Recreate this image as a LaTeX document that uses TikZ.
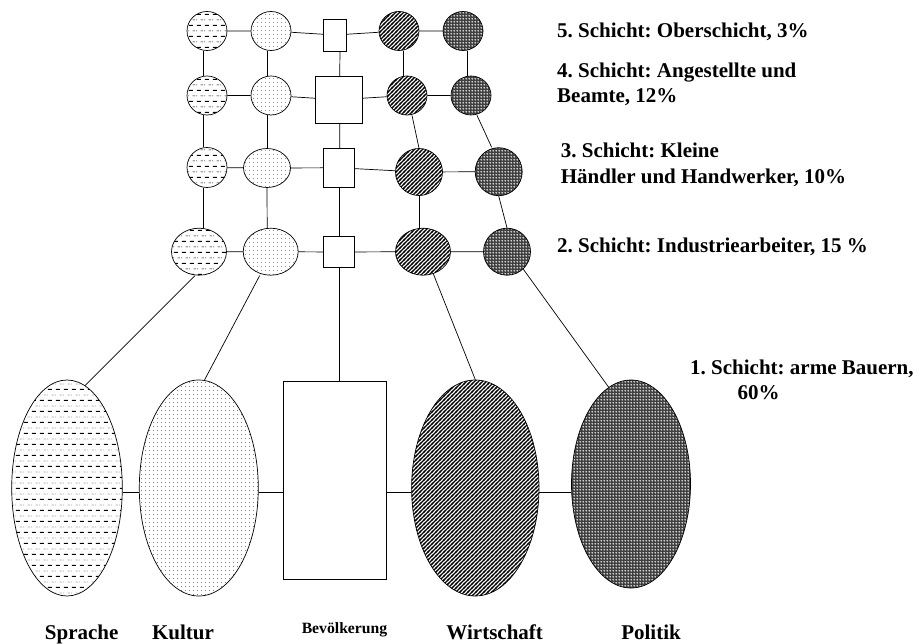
\documentclass[tikz,border=0pt]{standalone}
\usepackage{fontspec}
\setmainfont{Liberation Serif}[BoldFont={Liberation Serif Bold}]
\usetikzlibrary{shapes.geometric,patterns}
\frenchspacing

\pgfdeclarepatternformonly{hdash}{\pgfqpoint{0pt}{0pt}}{\pgfqpoint{7.5pt}{10.8pt}}{\pgfqpoint{7.5pt}{10.8pt}}{%
  \pgfsetlinewidth{1.0pt}%
  \pgfpathmoveto{\pgfqpoint{1pt}{2.7pt}}\pgfpathlineto{\pgfqpoint{5.2pt}{2.7pt}}\pgfusepath{stroke}%
  \pgfsetlinewidth{0.35pt}%
  \pgfpathmoveto{\pgfqpoint{4.8pt}{8.1pt}}\pgfpathlineto{\pgfqpoint{7.5pt}{8.1pt}}%
  \pgfpathmoveto{\pgfqpoint{0pt}{8.1pt}}\pgfpathlineto{\pgfqpoint{1.3pt}{8.1pt}}\pgfusepath{stroke}}

\pgfdeclarepatternformonly{fdots}{\pgfqpoint{0pt}{0pt}}{\pgfqpoint{4pt}{4pt}}{\pgfqpoint{4pt}{4pt}}{%
  \pgfpathcircle{\pgfqpoint{2pt}{2pt}}{0.45pt}\pgfusepath{fill}}

\pgfdeclarepatternformonly{diagstripe}{\pgfqpoint{-1pt}{-1pt}}{\pgfqpoint{5pt}{5pt}}{\pgfqpoint{4pt}{4pt}}{%
  \pgfsetlinewidth{1.4pt}%
  \pgfpathmoveto{\pgfqpoint{-1pt}{-1pt}}\pgfpathlineto{\pgfqpoint{5pt}{5pt}}\pgfusepath{stroke}}

\pgfdeclarepatternformonly{pdots}{\pgfqpoint{0pt}{0pt}}{\pgfqpoint{3pt}{3pt}}{\pgfqpoint{3pt}{3pt}}{%
  \pgfpathcircle{\pgfqpoint{1.5pt}{1.5pt}}{1.0pt}\pgfusepath{fill}}

\tikzset{
  circ/.style={ellipse, draw, line width=0.7pt, inner sep=0pt},
  sq/.style={rectangle, draw, line width=0.7pt, inner sep=0pt, fill=white},
  pS/.style={circ, pattern=hdash},
  pK/.style={circ, pattern=fdots},
  pW/.style={circ, pattern=diagstripe},
  pP/.style={circ, preaction={fill=black!75}, pattern=pdots, pattern color=white},
  sz/.style 2 args={minimum width=#1pt, minimum height=#2pt},
  conn/.style={line width=0.7pt},
  lbl/.style={font=\fontsize{21}{25.5}\selectfont\bfseries, inner sep=0pt},
  slbl/.style={font=\fontsize{15.7}{19}\selectfont\bfseries, inner sep=0pt},
}

\begin{document}
\begin{tikzpicture}[x=1pt,y=-1pt]
\useasboundingbox (0,0) rectangle (918,644);

% row 1
\node[pS, sz={40}{39}] (a1) at (207,31) {};
\node[pK, sz={40}{39}] (b1) at (271,31) {};
\node[sq, sz={23}{32}] (c1) at (335,35) {};
\node[pW, sz={40}{39}] (d1) at (399,31) {};
\node[pP, sz={40}{39}] (e1) at (463,31) {};
% row 2
\node[pS, sz={40}{39}] (a2) at (207,95.5) {};
\node[pK, sz={40}{39}] (b2) at (271,95.5) {};
\node[sq, sz={47}{47}] (c2) at (338.7,99.7) {};
\node[pW, sz={40}{39}] (d2) at (407,95.5) {};
\node[pP, sz={40}{39}] (e2) at (471,95.5) {};
% row 3
\node[pS, sz={40}{40}] (a3) at (207,167.5) {};
\node[pK, sz={47}{39}] (b3) at (267,168) {};
\node[sq, sz={31}{39}] (c3) at (338.8,167.8) {};
\node[pW, sz={47}{47}] (d3) at (419,172) {};
\node[pP, sz={47}{48}] (e3) at (498.7,171.7) {};
% row 4
\node[pS, sz={55}{47}] (a4) at (199,251.7) {};
\node[pK, sz={55}{47}] (b4) at (270.7,251.7) {};
\node[sq, sz={31}{31}] (c4) at (338.8,252) {};
\node[pW, sz={55}{47}] (d4) at (423,251.7) {};
\node[pP, sz={47}{47}] (e4) at (507,251.7) {};
% bottom
\node[pS, sz={110.6}{216}] (S) at (67,488) {};
\node[pK, sz={119}{216}] (K) at (198.8,488) {};
\node[sq, sz={103}{198}] (B) at (334.7,480) {};
\node[pW, sz={127.4}{216}] (W) at (475.3,488) {};
\node[pP, sz={119}{208}] (P) at (631,484) {};

% horizontal connectors in grid
\draw[conn] (a1) -- (b1) (b1) -- (c1) (c1) -- (d1) (d1) -- (e1);
\draw[conn] (a2) -- (b2) (b2) -- (c2) (c2) -- (d2) (d2) -- (e2);
\draw[conn] (a3) -- (b3) (b3) -- (c3) (c3) -- (d3) (d3) -- (e3);
\draw[conn] (a4) -- (b4) (b4) -- (c4) (c4) -- (d4) (d4) -- (e4);

% vertical connectors in grid
\draw[conn] ([xshift=-4pt]a1.south) -- ([xshift=-4pt]a2.north);
\draw[conn] ([xshift=-4pt]a2.south) -- ([xshift=-4pt]a3.north);
\draw[conn] ([xshift=-4pt]a3.south) -- ([xshift=4pt]a4.north);
\draw[conn] ([xshift=-4pt]b1.south) -- ([xshift=-4pt]b2.north);
\draw[conn] ([xshift=-4pt]b2.south) -- (b3.north);
\draw[conn] (b3.south) -- ([xshift=-3.5pt]b4.north);
\draw[conn] ([xshift=5pt]c1.south) -- ([xshift=1pt]c2.north);
\draw[conn] ([xshift=1pt]c2.south) -- ([xshift=1pt]c3.north);
\draw[conn] ([xshift=1pt]c3.south) -- ([xshift=1pt]c4.north);
\draw[conn] ([xshift=4pt]d1.south) -- ([xshift=-4pt]d2.north);
\draw[conn] ([xshift=5pt]d2.south) -- (d3.north);
\draw[conn] (d3.south) -- ([xshift=-4pt]d4.north);
\draw[conn] ([xshift=4pt]e1.south) -- ([xshift=-4pt]e2.north);
\draw[conn] ([xshift=6pt]e2.south) -- ([xshift=-7pt]e3.north);
\draw[conn] (e3.south) -- (e4.north);

% grid to bottom
\draw[conn] ([xshift=-4pt]a4.south) -- (S.80);
\draw[conn] ([xshift=-11pt]b4.south) -- (K.87);
\draw[conn] ([xshift=1pt]c4.south) -- ([xshift=1pt]c4.south |- B.north);
\draw[conn] (d4.-65) -- (W.north);
\draw[conn] (e4.-47) -- (P.103);

% bottom horizontal connectors
\draw[conn] ([yshift=-4pt]S.east) -- ([yshift=-4pt]K.west);
\draw[conn] ([yshift=-4pt]K.east) -- ([yshift=-12pt]B.west);
\draw[conn] ([yshift=-12pt]B.east) -- ([yshift=-4pt]W.west);
\draw[conn] ([yshift=-4pt]W.east) -- ([yshift=-8pt]P.west);

% right labels
\node[lbl, anchor=base west] (t5) at (557,37.7) {5. Schicht: Oberschicht, 3\%};
\node[lbl, anchor=base west] (t4a) at (557,77.7) {4. Schicht: Angestellte und};
\node[lbl, anchor=base west] (t4b) at (557,102.7) {Beamte, 12\%};
\node[lbl, anchor=base west] (t3a) at (560.7,157.3) {3. Schicht: Kleine};
\node[lbl, anchor=base west] (t3b) at (560.7,184) {Händler und Handwerker, 10\%};
\node[lbl, anchor=base west] (t2) at (557,252.3) {2. Schicht: Industriearbeiter, 15 \%};
\node[lbl, anchor=base west] (t1a) at (690,374) {1. Schicht: arme Bauern,};
\node[lbl, anchor=base west] (t1b) at (737.3,399) {60\%};

% bottom labels
\node[lbl, anchor=base] (lS) at (81.7,639) {Sprache};
\node[lbl, anchor=base] (lK) at (183,639) {Kultur};
\node[slbl, anchor=base] (lB) at (344.5,633.3) {Bevölkerung};
\node[lbl, anchor=base] (lW) at (494.7,639) {Wirtschaft};
\node[lbl, anchor=base] (lP) at (651,639) {Politik};
\end{tikzpicture}
\end{document}
